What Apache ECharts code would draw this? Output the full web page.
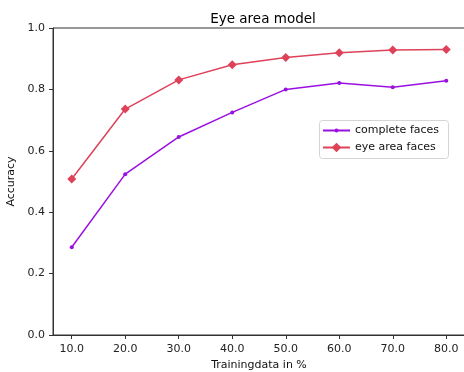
<!DOCTYPE html>
<html><head><meta charset="utf-8">
<script src="https://cdn.jsdelivr.net/npm/echarts@6/dist/echarts.min.js"></script>
<style>html,body{margin:0;padding:0;background:#fff}#c{width:464px;height:372px}</style>
</head><body><div id="c"></div>
<script>
const xValues = [10, 20, 30, 40, 50, 60, 70, 80];
const completeFaces = [0.286, 0.524, 0.645, 0.725, 0.800, 0.821, 0.807, 0.828];
const eyeAreaFaces = [0.508, 0.736, 0.831, 0.880, 0.904, 0.919, 0.928, 0.930];
const seriesNames = ['complete faces', 'eye area faces'];

const font = 'DejaVu Sans';
const purple = '#9a10e0';
const red = '#de4259';
const legendText = {fontFamily: font, fontSize: 11, color: '#111'};
const chart = echarts.init(document.getElementById('c'), null, {renderer: 'canvas'});
chart.setOption({
  animation: false,
  textStyle: {fontFamily: font},
  title: {
    text: 'Eye area model', left: 258, top: 7, textAlign: 'center',
    textStyle: {fontFamily: font, fontSize: 13.5, fontWeight: 'normal', color: '#000'}
  },
  grid: {left: 53, top: 28, right: -1, bottom: 37, containLabel: false, outerBoundsMode: 'none',
    show: true, borderColor: '#333', borderWidth: 1, backgroundColor: 'transparent'},
  graphic: [{
    type: 'rect', left: 319, top: 120, z: 100,
    shape: {width: 129, height: 38, r: 3},
    style: {fill: 'rgba(255,255,255,0.8)', stroke: '#d4d4d4', lineWidth: 1}
  }],
  legend: [
    {
      orient: 'vertical', left: 322, top: 125, z: 110, padding: 0,
      itemWidth: 27, itemHeight: 5, textStyle: legendText,
      data: [seriesNames[0]]
    },
    {
      orient: 'vertical', left: 322, top: 142, z: 110, padding: 0,
      itemWidth: 27, itemHeight: 12, textStyle: legendText,
      data: [seriesNames[1]]
    }
  ],
  xAxis: {
    type: 'value', min: 6.5, max: 83.5,
    name: 'Trainingdata in %', nameLocation: 'middle', nameGap: 24,
    nameTextStyle: {fontFamily: font, fontSize: 11, color: '#111'},
    axisLine: {show: true, lineStyle: {color: '#333', width: 1}},
    axisTick: {show: true, length: 4, lineStyle: {color: '#333'}, customValues: xValues},
    axisLabel: {fontFamily: font, fontSize: 11, color: '#222', margin: 9,
      customValues: xValues, formatter: v => v.toFixed(1)},
    splitLine: {show: false}
  },
  yAxis: {
    type: 'value', min: 0, max: 1, interval: 0.2,
    name: 'Accuracy', nameLocation: 'middle', nameGap: 34, nameRotate: 90,
    nameTextStyle: {fontFamily: font, fontSize: 11, color: '#111'},
    axisLine: {show: true, lineStyle: {color: '#333', width: 1}},
    axisTick: {show: true, length: 4, lineStyle: {color: '#333'}},
    axisLabel: {fontFamily: font, fontSize: 11, color: '#222', margin: 8,
      formatter: v => v.toFixed(1)},
    splitLine: {show: false}
  },
  series: [
    {
      name: seriesNames[0], type: 'line',
      data: xValues.map((x, i) => [x, completeFaces[i]]),
      symbol: 'circle', symbolSize: 4,
      lineStyle: {color: purple, width: 1.5},
      itemStyle: {color: purple}
    },
    {
      name: seriesNames[1], type: 'line',
      data: xValues.map((x, i) => [x, eyeAreaFaces[i]]),
      symbol: 'diamond', symbolSize: 9,
      lineStyle: {color: red, width: 1.5},
      itemStyle: {color: red}
    }
  ]
});
</script></body></html>
